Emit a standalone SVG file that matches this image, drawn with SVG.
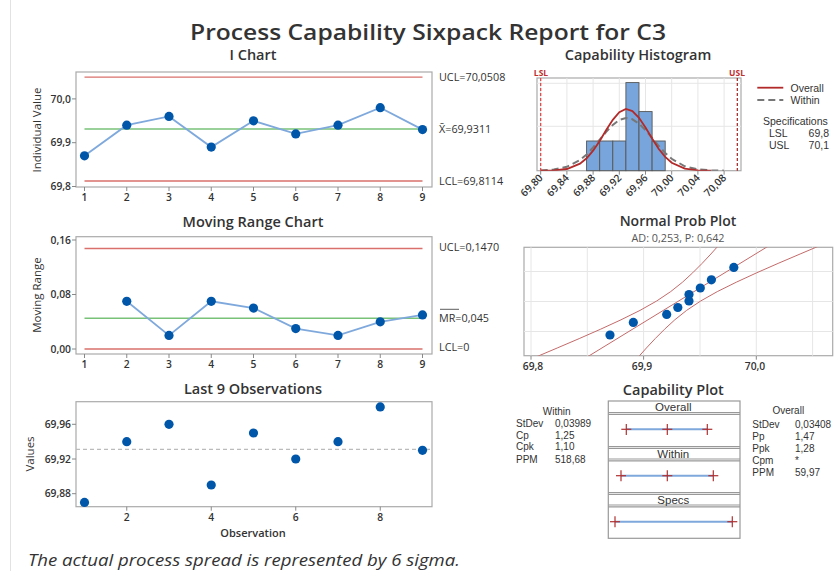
<svg xmlns="http://www.w3.org/2000/svg" width="835" height="571" viewBox="0 0 835 571">
<defs>
<style>
text{font-family:"Open Sans","Noto Sans","Liberation Sans",sans-serif;fill:#333}
.ttl{font-size:21.5px;font-weight:600;text-anchor:middle}
.pt{font-size:14.5px;font-weight:600;text-anchor:middle}
.tk{font-size:10.3px;font-weight:600}
.lb{font-size:10.8px}
.ax{font-size:11.5px}
.st{font-size:10px}
.st text{font-family:"Liberation Sans","Open Sans",sans-serif}
.box{fill:#fff;stroke:#aaa;stroke-width:1.2}
.grid{stroke:#e6e6e6;stroke-width:1}
.tm{stroke:#888;stroke-width:1}
.ucl{stroke:#d9706c;stroke-width:1.3}
.cl{stroke:#78c278;stroke-width:1.6}
.dl{fill:none;stroke:#7fa9dc;stroke-width:1.8}
.dot{fill:#0056a8}
.band{fill:none;stroke:#c46a6a;stroke-width:1}
.bar{fill:#78a6dc;stroke:#555;stroke-width:0.9}
.cross{stroke:#b03030;stroke-width:1.2}
.bl{stroke:#7fa9dc;stroke-width:2}
</style>
<clipPath id="npc"><rect x="524" y="247.3" width="308.7" height="108.4"/></clipPath>
<clipPath id="hc"><rect x="537" y="78" width="204" height="92.7"/></clipPath>
</defs>
<rect width="835" height="571" fill="#fff"/>
<line x1="10.5" y1="0" x2="10.5" y2="571" stroke="#e2e2e2"/>
<text class="ttl" x="428" y="40" textLength="476" lengthAdjust="spacingAndGlyphs">Process Capability Sixpack Report for C3</text>

<g id="ichart">
<text class="pt" x="253" y="60">I Chart</text>
<rect class="box" x="76" y="72" width="356" height="115"/>
<g class="tm">
<line x1="72" y1="98.9" x2="76" y2="98.9"/><line x1="72" y1="142.7" x2="76" y2="142.7"/><line x1="72" y1="186.5" x2="76" y2="186.5"/>
<line x1="84.5" y1="187" x2="84.5" y2="191"/><line x1="126.75" y1="187" x2="126.75" y2="191"/><line x1="169" y1="187" x2="169" y2="191"/><line x1="211.25" y1="187" x2="211.25" y2="191"/><line x1="253.5" y1="187" x2="253.5" y2="191"/><line x1="295.75" y1="187" x2="295.75" y2="191"/><line x1="338" y1="187" x2="338" y2="191"/><line x1="380.25" y1="187" x2="380.25" y2="191"/><line x1="422.5" y1="187" x2="422.5" y2="191"/>
</g>
<g class="tk" text-anchor="end"><text x="71" y="102.5">70,0</text><text x="71" y="146.3">69,9</text><text x="71" y="190">69,8</text></g>
<g class="tk" text-anchor="middle"><text x="84.5" y="200.5">1</text><text x="126.75" y="200.5">2</text><text x="169" y="200.5">3</text><text x="211.25" y="200.5">4</text><text x="253.5" y="200.5">5</text><text x="295.75" y="200.5">6</text><text x="338" y="200.5">7</text><text x="380.25" y="200.5">8</text><text x="422.5" y="200.5">9</text></g>
<text class="ax" transform="translate(41,130) rotate(-90)" text-anchor="middle">Individual Value</text>
<line class="ucl" x1="84.5" y1="77.2" x2="422.5" y2="77.2"/>
<line class="ucl" x1="84.5" y1="181" x2="422.5" y2="181"/>
<line class="cl" x1="84.5" y1="129" x2="422.5" y2="129"/>
<polyline class="dl" points="84.5,155.8 126.75,125.2 169,116.4 211.25,147.1 253.5,120.8 295.75,133.9 338,125.2 380.25,107.7 422.5,129.6"/>
<g class="dot"><circle cx="84.5" cy="155.8" r="4.6"/><circle cx="126.75" cy="125.2" r="4.6"/><circle cx="169" cy="116.4" r="4.6"/><circle cx="211.25" cy="147.1" r="4.6"/><circle cx="253.5" cy="120.8" r="4.6"/><circle cx="295.75" cy="133.9" r="4.6"/><circle cx="338" cy="125.2" r="4.6"/><circle cx="380.25" cy="107.7" r="4.6"/><circle cx="422.5" cy="129.6" r="4.6"/></g>
<g class="lb"><text x="439" y="81">UCL=70,0508</text><text x="439" y="133">X̄=69,9311</text><text x="439" y="184.5">LCL=69,8114</text></g>
</g>

<g id="mrchart">
<text class="pt" x="253" y="226.5">Moving Range Chart</text>
<rect class="box" x="76" y="236.7" width="356" height="117.3"/>
<g class="tm">
<line x1="72" y1="240" x2="76" y2="240"/><line x1="72" y1="294.5" x2="76" y2="294.5"/><line x1="72" y1="349" x2="76" y2="349"/>
<line x1="84.5" y1="354" x2="84.5" y2="358"/><line x1="126.75" y1="354" x2="126.75" y2="358"/><line x1="169" y1="354" x2="169" y2="358"/><line x1="211.25" y1="354" x2="211.25" y2="358"/><line x1="253.5" y1="354" x2="253.5" y2="358"/><line x1="295.75" y1="354" x2="295.75" y2="358"/><line x1="338" y1="354" x2="338" y2="358"/><line x1="380.25" y1="354" x2="380.25" y2="358"/><line x1="422.5" y1="354" x2="422.5" y2="358"/>
</g>
<g class="tk" text-anchor="end"><text x="71" y="243.7">0,16</text><text x="71" y="298">0,08</text><text x="71" y="352.7">0,00</text></g>
<g class="tk" text-anchor="middle"><text x="84.5" y="368">1</text><text x="126.75" y="368">2</text><text x="169" y="368">3</text><text x="211.25" y="368">4</text><text x="253.5" y="368">5</text><text x="295.75" y="368">6</text><text x="338" y="368">7</text><text x="380.25" y="368">8</text><text x="422.5" y="368">9</text></g>
<text class="ax" transform="translate(41,295) rotate(-90)" text-anchor="middle">Moving Range</text>
<line class="ucl" x1="84.5" y1="248.5" x2="422.5" y2="248.5"/>
<line class="ucl" x1="84.5" y1="349" x2="422.5" y2="349"/>
<line class="cl" x1="84.5" y1="318.2" x2="422.5" y2="318.2"/>
<polyline class="dl" points="126.75,301.3 169,335.4 211.25,301.3 253.5,308.1 295.75,328.6 338,335.4 380.25,321.8 422.5,314.9"/>
<g class="dot"><circle cx="126.75" cy="301.3" r="4.6"/><circle cx="169" cy="335.4" r="4.6"/><circle cx="211.25" cy="301.3" r="4.6"/><circle cx="253.5" cy="308.1" r="4.6"/><circle cx="295.75" cy="328.6" r="4.6"/><circle cx="338" cy="335.4" r="4.6"/><circle cx="380.25" cy="321.8" r="4.6"/><circle cx="422.5" cy="314.9" r="4.6"/></g>
<g class="lb"><text x="439" y="250.5">UCL=0,1470</text><text x="439" y="321.8">MR=0,045</text><text x="439" y="350.5">LCL=0</text></g>
<line x1="440" y1="309.3" x2="459" y2="309.3" stroke="#333" stroke-width="0.8"/>
</g>

<g id="last9">
<text class="pt" x="253" y="394">Last 9 Observations</text>
<rect class="box" x="76" y="401.7" width="356" height="105"/>
<g class="tm">
<line x1="72" y1="424.3" x2="76" y2="424.3"/><line x1="72" y1="459" x2="76" y2="459"/><line x1="72" y1="493.7" x2="76" y2="493.7"/>
<line x1="126.75" y1="506.7" x2="126.75" y2="510.7"/><line x1="211.25" y1="506.7" x2="211.25" y2="510.7"/><line x1="295.75" y1="506.7" x2="295.75" y2="510.7"/><line x1="380.25" y1="506.7" x2="380.25" y2="510.7"/>
</g>
<g class="tk" text-anchor="end"><text x="71" y="428">69,96</text><text x="71" y="462.7">69,92</text><text x="71" y="497.4">69,88</text></g>
<g class="tk" text-anchor="middle"><text x="126.75" y="521">2</text><text x="211.25" y="521">4</text><text x="295.75" y="521">6</text><text x="380.25" y="521">8</text></g>
<text x="253" y="537" font-size="11px" text-anchor="middle" font-weight="600">Observation</text>
<text class="ax" transform="translate(34,454) rotate(-90)" text-anchor="middle">Values</text>
<line x1="76" y1="449.4" x2="432" y2="449.4" stroke="#bbb" stroke-width="1.2" stroke-dasharray="4,3"/>
<g class="dot"><circle cx="84.5" cy="502.4" r="4.6"/><circle cx="126.75" cy="441.65" r="4.6"/><circle cx="169" cy="424.3" r="4.6"/><circle cx="211.25" cy="485" r="4.6"/><circle cx="253.5" cy="433" r="4.6"/><circle cx="295.75" cy="459" r="4.6"/><circle cx="338" cy="441.65" r="4.6"/><circle cx="380.25" cy="406.95" r="4.6"/><circle cx="422.5" cy="450.3" r="4.6"/></g>
</g>

<g id="histogram">
<text class="pt" x="638" y="60">Capability Histogram</text>
<rect class="box" x="537" y="78" width="204" height="92.7"/>
<g class="grid">
<line x1="540.7" y1="78" x2="540.7" y2="170.7"/><line x1="566.9" y1="78" x2="566.9" y2="170.7"/><line x1="593.1" y1="78" x2="593.1" y2="170.7"/><line x1="619.3" y1="78" x2="619.3" y2="170.7"/><line x1="645.5" y1="78" x2="645.5" y2="170.7"/><line x1="671.7" y1="78" x2="671.7" y2="170.7"/><line x1="697.9" y1="78" x2="697.9" y2="170.7"/><line x1="724.1" y1="78" x2="724.1" y2="170.7"/>
<line x1="537" y1="83.3" x2="741" y2="83.3"/><line x1="537" y1="126.3" x2="741" y2="126.3"/>
</g>
<g class="tm">
<line x1="540.7" y1="170.7" x2="540.7" y2="174.7"/><line x1="566.9" y1="170.7" x2="566.9" y2="174.7"/><line x1="593.1" y1="170.7" x2="593.1" y2="174.7"/><line x1="619.3" y1="170.7" x2="619.3" y2="174.7"/><line x1="645.5" y1="170.7" x2="645.5" y2="174.7"/><line x1="671.7" y1="170.7" x2="671.7" y2="174.7"/><line x1="697.9" y1="170.7" x2="697.9" y2="174.7"/><line x1="724.1" y1="170.7" x2="724.1" y2="174.7"/>
</g>
<g class="bar">
<rect x="586.6" y="141" width="13.1" height="29.7"/><rect x="599.7" y="141" width="13.1" height="29.7"/><rect x="612.8" y="141" width="13.1" height="29.7"/><rect x="625.9" y="82.6" width="13.1" height="88.1"/><rect x="639" y="111.6" width="13.1" height="59.1"/><rect x="652.1" y="141" width="13.1" height="29.7"/>
</g>
<g clip-path="url(#hc)">
<polyline fill="none" stroke="#777" stroke-width="2" stroke-dasharray="7,4" points="540.7,170.46 553.8,169.6 566.9,166.8 580,159.9 586.6,154.4 593.1,147.5 599.7,139.7 606.2,131.8 612.8,124.9 619.3,120 625.9,118 632.4,119.3 639,123.6 645.5,130.2 652.1,137.9 658.6,145.8 665.2,153 671.7,158.8 684.8,166.3 697.9,169.4 711,170.4 724.1,170.65"/>
<polyline fill="none" stroke="#b22a2a" stroke-width="1.8" points="540.7,170.66 553.8,170.4 566.9,169 580,163.7 586.6,158.3 593.1,150.7 599.7,140.9 606.2,130 612.8,119.8 619.3,112.2 625.9,109 632.4,111.1 639,117.8 645.5,127.6 652.1,138.5 658.6,148.7 665.2,156.8 671.7,162.7 684.8,168.65 697.9,170.3 711,170.65"/>
</g>
<line x1="540.7" y1="78" x2="540.7" y2="170.7" stroke="#e04040" stroke-width="1.2" stroke-dasharray="3,2"/>
<line x1="737.3" y1="78" x2="737.3" y2="170.7" stroke="#a02020" stroke-width="1.2" stroke-dasharray="3,2"/>
<text x="541" y="75.5" font-size="8.5px" font-weight="700" text-anchor="middle" style="fill:#c03030">LSL</text>
<text x="737" y="75.5" font-size="8.5px" font-weight="700" text-anchor="middle" style="fill:#c03030">USL</text>
<g class="tk" text-anchor="end">
<text transform="translate(543.5,178.5) rotate(-45)">69,80</text>
<text transform="translate(569.7,178.5) rotate(-45)">69,84</text>
<text transform="translate(595.9,178.5) rotate(-45)">69,88</text>
<text transform="translate(622.1,178.5) rotate(-45)">69,92</text>
<text transform="translate(648.3,178.5) rotate(-45)">69,96</text>
<text transform="translate(674.5,178.5) rotate(-45)">70,00</text>
<text transform="translate(700.7,178.5) rotate(-45)">70,04</text>
<text transform="translate(726.9,178.5) rotate(-45)">70,08</text>
</g>
<line x1="757.3" y1="87.7" x2="783.3" y2="87.7" stroke="#b22a2a" stroke-width="1.8"/>
<line x1="757.3" y1="100" x2="783.3" y2="100" stroke="#777" stroke-width="2" stroke-dasharray="7,4"/>
<g class="st" style="font-size:10.5px">
<text x="790.5" y="91.5">Overall</text><text x="790.5" y="103.8">Within</text>
<text x="763" y="124.8">Specifications</text>
<text x="769" y="136.7">LSL</text><text x="829" y="136.7" text-anchor="end">69,8</text>
<text x="769" y="148.8">USL</text><text x="829" y="148.8" text-anchor="end">70,1</text>
</g>
</g>

<g id="normprob">
<text class="pt" x="678" y="226" style="font-size:14px">Normal Prob Plot</text>
<text x="678" y="242" font-size="10.8px" text-anchor="middle" style="fill:#555">AD: 0,253, P: 0,642</text>
<rect class="box" x="524" y="247.3" width="308.7" height="108.4"/>
<g class="grid">
<line x1="531" y1="247.3" x2="531" y2="355.7"/><line x1="587.3" y1="247.3" x2="587.3" y2="355.7"/><line x1="643.6" y1="247.3" x2="643.6" y2="355.7"/><line x1="700" y1="247.3" x2="700" y2="355.7"/><line x1="756.3" y1="247.3" x2="756.3" y2="355.7"/><line x1="812.6" y1="247.3" x2="812.6" y2="355.7"/>
<line x1="524" y1="271.5" x2="832.7" y2="271.5"/><line x1="524" y1="301.5" x2="832.7" y2="301.5"/><line x1="524" y1="331.5" x2="832.7" y2="331.5"/>
</g>
<g class="tm"><line x1="531" y1="355.7" x2="531" y2="359.7"/><line x1="643.6" y1="355.7" x2="643.6" y2="359.7"/><line x1="756.3" y1="355.7" x2="756.3" y2="359.7"/></g>
<g class="tk" text-anchor="middle"><text x="533" y="369.5">69,8</text><text x="642" y="369.5">69,9</text><text x="755" y="369.5">70,0</text></g>
<g clip-path="url(#npc)">
<line class="band" x1="586.5" y1="357.4" x2="770.8" y2="244.6"/>
<polyline class="band" points="535,357.4 557.2,348 579.2,338.6 600.6,329.2 621,319.8 640,310.4 656.65,301 670.7,291.6 682.5,282.2 692.7,272.8 702.1,263.4 710.9,254 719.3,244.6"/>
<polyline class="band" points="638,357.4 646.4,348 655.2,338.6 664.6,329.2 674.8,319.8 686.6,310.4 700.65,301 717.3,291.6 736.3,282.2 756.7,272.8 778.1,263.4 800.1,254 822.3,244.6"/>
</g>
<g class="dot"><circle cx="610" cy="335" r="4.6"/><circle cx="633.3" cy="322.4" r="4.6"/><circle cx="666.7" cy="314.4" r="4.6"/><circle cx="677.8" cy="307.5" r="4.6"/><circle cx="689" cy="301" r="4.6"/><circle cx="689" cy="294.6" r="4.6"/><circle cx="700.3" cy="288" r="4.6"/><circle cx="711.4" cy="279.8" r="4.6"/><circle cx="733.8" cy="267.4" r="4.6"/></g>
</g>

<g id="capplot">
<text class="pt" x="673.3" y="395">Capability Plot</text>
<rect x="608.3" y="401" width="131.7" height="137.3" fill="#fff" stroke="#999" stroke-width="1.2"/>
<g stroke="#999" stroke-width="1.2">
<line x1="608.3" y1="412.5" x2="740" y2="412.5"/><line x1="608.3" y1="414.3" x2="740" y2="414.3"/>
<line x1="608.3" y1="446.5" x2="740" y2="446.5"/><line x1="608.3" y1="448.3" x2="740" y2="448.3"/>
<line x1="608.3" y1="459" x2="740" y2="459"/><line x1="608.3" y1="460.8" x2="740" y2="460.8"/>
<line x1="608.3" y1="492.5" x2="740" y2="492.5"/><line x1="608.3" y1="494.3" x2="740" y2="494.3"/>
<line x1="608.3" y1="505" x2="740" y2="505"/><line x1="608.3" y1="506.8" x2="740" y2="506.8"/>
</g>
<g class="st" text-anchor="middle" style="font-size:11.5px"><text x="673.3" y="411">Overall</text><text x="673.3" y="457.7">Within</text><text x="673.3" y="503.7">Specs</text></g>
<line class="bl" x1="626.3" y1="429.3" x2="707.3" y2="429.3"/>
<line class="bl" x1="621" y1="475.7" x2="713.3" y2="475.7"/>
<line class="bl" x1="615" y1="521.7" x2="732.3" y2="521.7"/>
<g class="cross">
<line x1="621.3" y1="429.3" x2="631.3" y2="429.3"/><line x1="626.3" y1="424" x2="626.3" y2="435"/>
<line x1="662.3" y1="429.3" x2="672.3" y2="429.3"/><line x1="667.3" y1="424" x2="667.3" y2="435"/>
<line x1="702.3" y1="429.3" x2="712.3" y2="429.3"/><line x1="707.3" y1="424" x2="707.3" y2="435"/>
<line x1="616" y1="475.7" x2="626" y2="475.7"/><line x1="621" y1="470.2" x2="621" y2="481.2"/>
<line x1="662.3" y1="475.7" x2="672.3" y2="475.7"/><line x1="667.3" y1="470.2" x2="667.3" y2="481.2"/>
<line x1="708.3" y1="475.7" x2="718.3" y2="475.7"/><line x1="713.3" y1="470.2" x2="713.3" y2="481.2"/>
<line x1="610" y1="521.7" x2="620" y2="521.7"/><line x1="615" y1="516.2" x2="615" y2="527.2"/>
<line x1="727.3" y1="521.7" x2="737.3" y2="521.7"/><line x1="732.3" y1="516.2" x2="732.3" y2="527.2"/>
</g>
<g class="st">
<text x="556.7" y="414.5" text-anchor="middle">Within</text>
<text x="516" y="426.8">StDev</text><text x="555" y="426.8">0,03989</text>
<text x="516" y="438.5">Cp</text><text x="555" y="438.5">1,25</text>
<text x="516" y="450.2">Cpk</text><text x="555" y="450.2">1,10</text>
<text x="516" y="462.8">PPM</text><text x="555" y="462.8">518,68</text>
<text x="788.3" y="414.2" text-anchor="middle">Overall</text>
<text x="752.3" y="427.5">StDev</text><text x="795" y="427.5">0,03408</text>
<text x="752.3" y="439.5">Pp</text><text x="795" y="439.5">1,47</text>
<text x="752.3" y="451.5">Ppk</text><text x="795" y="451.5">1,28</text>
<text x="752.3" y="463.5">Cpm</text><text x="795" y="463.5">*</text>
<text x="752.3" y="475.5">PPM</text><text x="795" y="475.5">59,97</text>
</g>
</g>

<text x="28" y="565.5" font-size="16.5px" font-style="italic" textLength="432" lengthAdjust="spacingAndGlyphs">The actual process spread is represented by 6 sigma.</text>
</svg>
